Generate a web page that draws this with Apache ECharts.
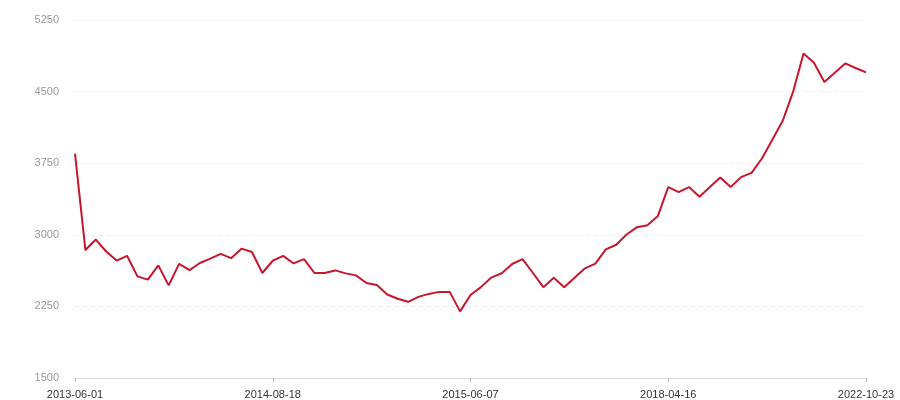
<!DOCTYPE html>
<html>
<head>
<meta charset="utf-8">
<style>
  html, body { margin: 0; padding: 0; background: #fff; }
  #chart { width: 900px; height: 400px; }
</style>
<script src="https://cdn.jsdelivr.net/npm/echarts@6/dist/echarts.min.js"></script>
</head>
<body>
<div id="chart"></div>
<script>
// category dates (only every 19th one is shown on the axis)
const dates = [
  '2013-06-01', '2013-06-24', '2013-07-17', '2013-08-09', '2013-09-01', '2013-09-24', '2013-10-17',
  '2013-11-09', '2013-12-02', '2013-12-25', '2014-01-17', '2014-02-09', '2014-03-04', '2014-03-27',
  '2014-04-19', '2014-05-12', '2014-06-04', '2014-06-27', '2014-07-20', '2014-08-18', '2014-09-02',
  '2014-09-17', '2014-10-02', '2014-10-17', '2014-11-01', '2014-11-16', '2014-12-01', '2014-12-16',
  '2014-12-31', '2015-01-15', '2015-01-30', '2015-02-14', '2015-03-01', '2015-03-16', '2015-03-31',
  '2015-04-15', '2015-04-30', '2015-05-15', '2015-06-07', '2015-08-01', '2015-09-25', '2015-11-19',
  '2016-01-13', '2016-03-08', '2016-05-02', '2016-06-26', '2016-08-20', '2016-10-14', '2016-12-08',
  '2017-02-01', '2017-03-28', '2017-05-22', '2017-07-16', '2017-09-09', '2017-11-03', '2017-12-28',
  '2018-02-21', '2018-04-16', '2018-07-12', '2018-10-07', '2019-01-02', '2019-03-30', '2019-06-25',
  '2019-09-20', '2019-12-16', '2020-03-12', '2020-06-07', '2020-09-02', '2020-11-28', '2021-02-23',
  '2021-05-21', '2021-08-16', '2021-11-11', '2022-02-06', '2022-05-04', '2022-07-30', '2022-10-23'
];

const values = [
  3850, 2840, 2950, 2825, 2730, 2780, 2565, 2530, 2680, 2470,
  2695, 2630, 2705, 2750, 2800, 2755, 2855, 2820, 2600, 2728,
  2779, 2700, 2745, 2600, 2600, 2627, 2596, 2575, 2495, 2475,
  2375, 2330, 2298, 2350, 2381, 2402, 2402, 2198, 2370, 2452,
  2552, 2597, 2694, 2746, 2600, 2451, 2549, 2451, 2549, 2649,
  2698, 2847, 2896, 3003, 3080, 3101, 3196, 3500, 3448, 3500,
  3399, 3500, 3601, 3500, 3604, 3649, 3799, 3996, 4195, 4500,
  4899, 4802, 4601, 4698, 4795, 4747, 4701
];

const chart = echarts.init(document.getElementById('chart'));
chart.setOption({
  animation: false,
  grid: { left: 75, right: 34, top: 20, bottom: 21 },
  xAxis: {
    type: 'category',
    data: dates,
    boundaryGap: false,
    axisLine: { lineStyle: { color: '#dcdcdc' } },
    axisTick: { interval: 18, length: 4, lineStyle: { color: '#bbb' } },
    axisLabel: {
      interval: 18,
      color: '#333',
      fontSize: 11,
      fontFamily: 'Liberation Sans',
      margin: 11
    },
    splitLine: { show: false }
  },
  yAxis: {
    type: 'value',
    min: 1500,
    max: 5250,
    interval: 750,
    axisLine: { show: false },
    axisTick: { show: false },
    axisLabel: {
      color: '#999',
      fontSize: 11,
      fontFamily: 'Liberation Sans',
      margin: 16,
      formatter: v => String(v)
    },
    splitLine: { lineStyle: { color: '#e8e8e8', type: [4, 4] } }
  },
  series: [
    {
      type: 'line',
      data: values,
      showSymbol: false,
      lineStyle: { color: '#c8162e', width: 2 },
      itemStyle: { color: '#c8162e' }
    }
  ]
});
</script>
</body>
</html>
